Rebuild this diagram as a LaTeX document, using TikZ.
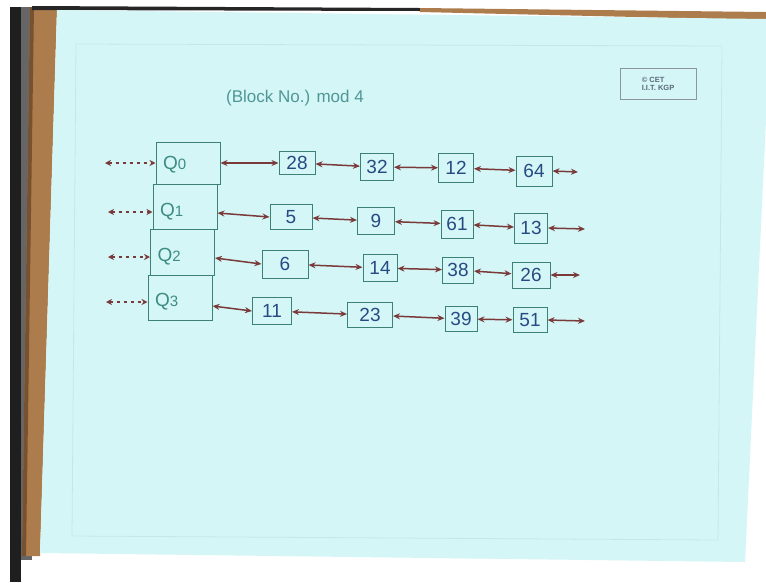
\documentclass[tikz,border=0pt]{standalone}
\usepackage{fontspec}
\setmainfont{Liberation Sans}
\usetikzlibrary{arrows.meta}
\definecolor{paper}{RGB}{212,246,246}
\definecolor{wood}{RGB}{172,124,76}
\definecolor{wooddark}{RGB}{120,82,48}
\definecolor{boxline}{RGB}{60,128,118}
\definecolor{arrowc}{RGB}{122,58,58}
\definecolor{digitc}{RGB}{40,74,130}
\definecolor{qtext}{RGB}{62,140,132}
\definecolor{titlec}{RGB}{80,150,150}
\definecolor{cetc}{RGB}{90,105,120}
\definecolor{margin}{RGB}{196,232,232}
\tikzset{
  x=1pt, y=-1pt,
  qbox/.style={draw=boxline, line width=1pt, minimum height=#1, text width=50pt, inner xsep=7pt, inner ysep=0pt, align=left, text=qtext, font=\fontsize{19}{19}\selectfont, anchor=center},
  databox/.style={draw=boxline, line width=1pt, inner sep=0pt, text=digitc, font=\fontsize{19}{19}\selectfont},
  link/.style={arrowc, line width=1.5pt, {Stealth[length=7pt,width=6pt]}-{Stealth[length=7pt,width=6pt]}},
  entry/.style={arrowc, line width=1.3pt, dash pattern=on 3pt off 4pt, {Stealth[length=6pt,width=6pt]}-{Stealth[length=6pt,width=6pt]}},
}
\newcommand{\dnode}[6]{\node[databox, minimum width=#4, minimum height=#5] (#1) at (#2,#3) {#6};}
\newcommand{\qlab}[2]{\raisebox{-#2}[\height][\depth]{Q{\fontsize{15}{15}\selectfont #1}}}
\begin{document}
\begin{tikzpicture}
\path[use as bounding box] (0,0) rectangle (766,582);
% background scene
\fill[white] (0,0) rectangle (766,582);
\fill[black!88] (10,7) rectangle (21,582);
\fill[black!60] (21,7) rectangle (32,560);
\fill[wood] (30,7) -- (57,9) -- (40,556) -- (22,556) -- cycle;
\fill[wooddark] (30,7) -- (34,7) -- (26,556) -- (22,556) -- cycle;
\fill[black!85] (32,6) -- (420,8) -- (420,11) -- (32,10) -- cycle;
\fill[wood] (420,8) -- (766,12) -- (766,20) -- (420,12) -- cycle;
\fill[paper] (57,10) -- (766,19) -- (766,120) -- (745,562) -- (40,553) -- cycle;
\draw[margin, line width=0.8pt] (76,44) -- (722,46) -- (718,540) -- (72,536) -- cycle;
% title and stamp
\node[text=titlec, font=\fontsize{17}{17}\selectfont] (title) at (295,98) {(Block No.) mod 4};
\node[draw=cetc!70, line width=0.8pt, minimum width=76pt, minimum height=31pt, align=left, text=cetc, font=\bfseries\fontsize{7.5}{8.5}\selectfont] (cet) at (658,84) {\copyright{} CET\\I.I.T. KGP};
% queue heads
\node[qbox=42pt] (q0) at (188,163) {\qlab{0}{2pt}};
\node[qbox=45pt] (q1) at (185,206.5) {\qlab{1}{5pt}};
\node[qbox=46pt] (q2) at (182.5,252) {\qlab{2}{5pt}};
\node[qbox=45pt] (q3) at (180,297.5) {\qlab{3}{4pt}};
% row 0
\dnode{a1}{297}{163}{36pt}{23pt}{28}
\dnode{a2}{377}{167}{33pt}{27pt}{32}
\dnode{a3}{456}{168}{35pt}{29pt}{12}
\dnode{a4}{534}{171}{36pt}{30pt}{64}
% row 1
\dnode{b1}{291}{217}{42pt}{25pt}{5}
\dnode{b2}{376}{221}{37pt}{27pt}{9}
\dnode{b3}{457}{224}{32pt}{28pt}{61}
\dnode{b4}{531}{228}{33pt}{30pt}{13}
% row 2
\dnode{c1}{285}{264}{46pt}{28pt}{6}
\dnode{c2}{380}{268}{34pt}{27pt}{14}
\dnode{c3}{458}{270}{31pt}{26pt}{38}
\dnode{c4}{531}{275}{38pt}{26pt}{26}
% row 3
\dnode{d1}{272}{311}{39pt}{27pt}{11}
\dnode{d2}{370}{315}{45pt}{25pt}{23}
\dnode{d3}{461}{319}{32pt}{25pt}{39}
\dnode{d4}{530}{320}{34pt}{25pt}{51}
% free ends
\coordinate (l0) at (105,163);
\coordinate (l1) at (108,212);
\coordinate (l2) at (108,257);
\coordinate (l3) at (106,302);
\coordinate (e0) at (578,172);
\coordinate (e1) at (585,229);
\coordinate (e2) at (580,275);
\coordinate (e3) at (585,321);
% entry arrows
\draw[entry] (l0) -- (l0 -| q0.west);
\draw[entry] (l1) -- (l1 -| q1.west);
\draw[entry] (l2) -- (l2 -| q2.west);
\draw[entry] (l3) -- (l3 -| q3.west);
% links row 0
\draw[link] (q0.east |- a1.west) -- (a1.west);
\draw[link] (a1) -- (a2);
\draw[link] (a2) -- (a3);
\draw[link] (a3) -- (a4);
\draw[link] (a4.east) -- (e0);
% links row 1
\draw[link] (q1.east |- 0,213) -- (b1.west);
\draw[link] (b1) -- (b2);
\draw[link] (b2) -- (b3);
\draw[link] (b3) -- (b4);
\draw[link] (b4.east) -- (e1);
% links row 2
\draw[link] (q2.east |- 0,258) -- (c1.west);
\draw[link] (c1) -- (c2);
\draw[link] (c2) -- (c3);
\draw[link] (c3) -- (c4);
\draw[link] (c4.east) -- (e2);
% links row 3
\draw[link] (q3.east |- 0,306) -- (d1.west);
\draw[link] (d1) -- (d2);
\draw[link] (d2) -- (d3);
\draw[link] (d3) -- (d4);
\draw[link] (d4.east) -- (e3);
\end{tikzpicture}
\end{document}
